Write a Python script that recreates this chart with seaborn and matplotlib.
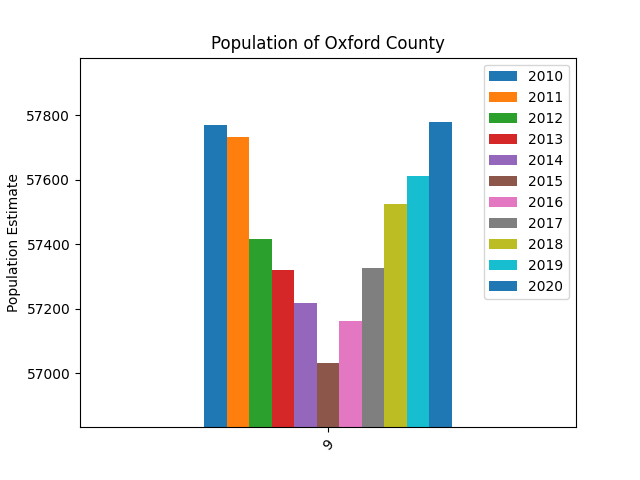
import numpy as np
import pandas as pd
import matplotlib
matplotlib.use('Agg')
import matplotlib.pyplot as plt
import seaborn as sns

# Population estimates, one row (index 9) with a column per year
years = ['2010', '2011', '2012', '2013', '2014', '2015',
         '2016', '2017', '2018', '2019', '2020']
population = [57770, 57733, 57417, 57320, 57218, 57032,
              57163, 57327, 57525, 57612, 57779]
row_label = ['9'] * len(years)

df = pd.DataFrame({'County': row_label, 'Year': years, 'Population': population})

tab10 = sns.color_palette('tab10')
colors = [tab10[i % 10] for i in range(len(years))]

fig, ax = plt.subplots(figsize=(6.4, 4.8), dpi=100)
sns.barplot(data=df, x='County', y='Population', hue='Year', palette=colors,
            width=0.5, gap=0, saturation=1, ax=ax)

ax.set_xlim(-0.5, 0.5)
ax.set_ylim(min(population) - 200, max(population) + 200)
ax.set_title('Population of Oxford County')
ax.set_xlabel('')
ax.set_ylabel('Population Estimate')
plt.setp(ax.get_xticklabels(), rotation=45)
ax.legend(loc='upper right')

fig.savefig('out.png', dpi=100)
